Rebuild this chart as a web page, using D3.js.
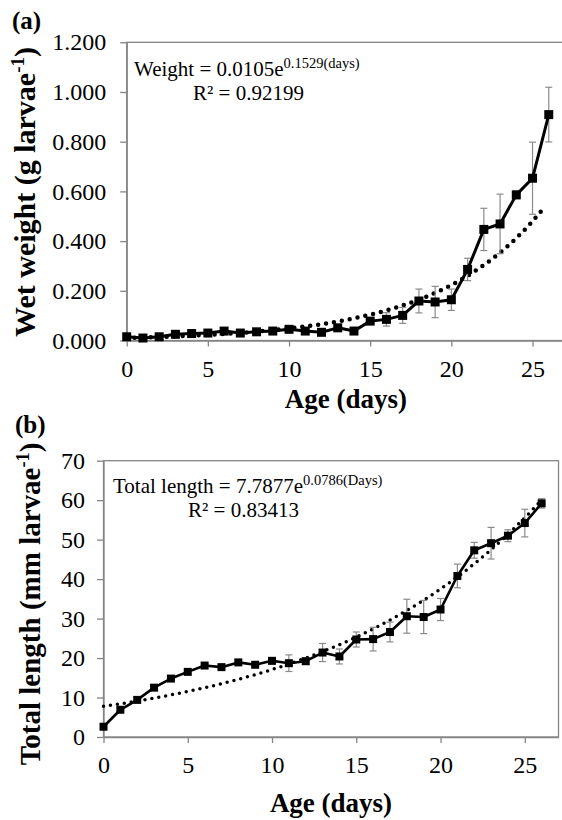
<!DOCTYPE html>
<html>
<head>
<meta charset="utf-8">
<script src="https://cdn.jsdelivr.net/npm/d3@7"></script>
<style>
    body { margin: 0; background: #fff; }
</style>
</head>
<body>
<svg id="chart" width="562" height="820"></svg>
<script>
// Age of the larvae (days)
const days = [0, 1, 2, 3, 4, 5, 6, 7, 8, 9, 10, 11, 12, 13, 14, 15, 16, 17, 18, 19, 20, 21, 22, 23, 24, 25, 26];

// (a) wet weight, g larvae-1, mean and SD
const weight = [0.015, 0.010, 0.015, 0.025, 0.028, 0.030, 0.038, 0.030, 0.035, 0.038, 0.045, 0.038, 0.033, 0.051, 0.038,
                0.078, 0.085, 0.101, 0.159, 0.155, 0.164, 0.286, 0.447, 0.469, 0.586, 0.653, 0.909];
const weightSd = [0.005, 0.005, 0.004, 0.006, 0.005, 0.005, 0.006, 0.004, 0.005, 0.005, 0.006, 0.010, 0.006, 0.008, 0.006,
                  0.010, 0.027, 0.032, 0.048, 0.063, 0.043, 0.045, 0.085, 0.120, 0.015, 0.145, 0.110];

// (b) total length, mm larvae-1, mean and SD
const lengthMm = [2.6, 6.9, 9.4, 12.5, 14.8, 16.5, 18.1, 17.7, 18.9, 18.3, 19.3, 18.7, 19.2, 21.4, 20.4,
                  24.7, 24.8, 26.6, 30.6, 30.4, 32.3, 40.8, 47.3, 49.1, 51.0, 54.2, 59.2];
const lengthSd = [0.6, 0.6, 0.6, 0.6, 0.6, 0.6, 0.6, 0.6, 0.6, 0.6, 0.8, 2.1, 0.8, 2.3, 1.9,
                  1.9, 3.0, 2.5, 4.3, 4.2, 2.8, 3.0, 2.0, 4.0, 1.5, 3.5, 1.2];

// exponential fits shown on the chart
const weightFit = { a: 0.0105, b: 0.1529, end: 25.8 };
const lengthFit = { a: 7.7877, b: 0.0786, end: 26.0 };

const xTicks = [0, 5, 10, 15, 20, 25];
const weightTicks = [0, 0.2, 0.4, 0.6, 0.8, 1.0, 1.2];
const lengthTicks = [0, 10, 20, 30, 40, 50, 60, 70];

const serif = '"Times New Roman", "Liberation Serif", Tinos, "DejaVu Serif", serif';
const svg = d3.select('#chart').attr('font-family', serif);
const axisGray = '#858585';

function drawPanel(opt) {
    const g = svg.append('g');
    const x = d3.scaleLinear().domain([0, 27]).range([opt.left, opt.right]);
    const y = d3.scaleLinear().domain(opt.yDomain).range([opt.bottom, opt.top]);

    // frame
    g.append('rect')
        .attr('x', opt.left).attr('y', opt.top)
        .attr('width', opt.right - opt.left).attr('height', opt.bottom - opt.top)
        .attr('fill', 'none').attr('stroke', axisGray).attr('stroke-width', 1.3);

    const yAxis = g.append('g')
        .attr('transform', `translate(${opt.left},0)`)
        .call(d3.axisLeft(y).tickValues(opt.yTicks).tickFormat(opt.yFormat).tickSize(6.5).tickSizeOuter(0).tickPadding(opt.yPad));
    const xAxis = g.append('g')
        .attr('transform', `translate(0,${opt.bottom})`)
        .call(d3.axisBottom(x).tickValues(xTicks).tickFormat(d3.format('d')).tickSize(6).tickSizeOuter(0).tickPadding(13));

    [yAxis, xAxis].forEach(a => {
        a.attr('font-family', serif).attr('font-size', 24);
        a.select('.domain').attr('stroke', axisGray).attr('stroke-width', 1.3);
        a.selectAll('.tick line').attr('stroke', axisGray).attr('stroke-width', 1.3);
        a.selectAll('.tick text').attr('fill', '#000');
    });

    // fitted curve (dotted)
    const fitX = d3.range(0, opt.fit.end + 0.001, 0.05);
    g.append('path')
        .datum(fitX)
        .attr('fill', 'none')
        .attr('stroke', '#000')
        .attr('stroke-width', opt.dotSize)
        .attr('stroke-linecap', 'round')
        .attr('stroke-dasharray', `0 ${opt.dotGap}`)
        .attr('d', d3.line().x(d => x(d)).y(d => y(opt.fit.a * Math.exp(opt.fit.b * d))));

    // error bars
    const eb = g.append('g').attr('stroke', '#8a8a8a').attr('stroke-width', 1.2);
    days.forEach((d, i) => {
        const lo = y(opt.values[i] - opt.sd[i]);
        const hi = y(opt.values[i] + opt.sd[i]);
        eb.append('line').attr('x1', x(d)).attr('x2', x(d)).attr('y1', lo).attr('y2', hi);
        eb.append('line').attr('x1', x(d) - 3.5).attr('x2', x(d) + 3.5).attr('y1', lo).attr('y2', lo);
        eb.append('line').attr('x1', x(d) - 3.5).attr('x2', x(d) + 3.5).attr('y1', hi).attr('y2', hi);
    });

    // mean line and markers
    g.append('path')
        .datum(days)
        .attr('fill', 'none')
        .attr('stroke', '#000')
        .attr('stroke-width', opt.lineWidth)
        .attr('stroke-linejoin', 'round')
        .attr('d', d3.line().x(d => x(d)).y((d, i) => y(opt.values[i])));

    g.selectAll('.marker')
        .data(days)
        .join('path')
        .attr('class', 'marker')
        .attr('transform', (d, i) => `translate(${x(d)},${y(opt.values[i])})`)
        .attr('d', d3.symbol(d3.symbolSquare, opt.marker * opt.marker))
        .attr('fill', '#000');

    // equation text
    const eq = g.append('text').attr('x', opt.eqX).attr('y', opt.eqY).attr('font-size', 21);
    eq.append('tspan').text(opt.eqText);
    eq.append('tspan').attr('font-size', 14.5).attr('dy', -8).text(opt.eqSup);
    g.append('text').attr('x', opt.r2X).attr('y', opt.eqY + 24).attr('font-size', 21).text(opt.r2Text);

    // axis titles
    g.append('text')
        .attr('x', (opt.left + Math.min(opt.right, 565)) / 2).attr('y', opt.xTitleY)
        .attr('text-anchor', 'middle').attr('font-weight', 'bold').attr('font-size', 27)
        .text('Age (days)');

    const yt = g.append('text')
        .attr('transform', `translate(${opt.yTitleX},${opt.yTitleY}) rotate(-90)`)
        .attr('text-anchor', 'middle').attr('font-weight', 'bold').attr('font-size', opt.yTitleSize);
    yt.append('tspan').text(opt.yTitle);
    yt.append('tspan').attr('font-size', opt.yTitleSize * 0.63).attr('dy', -11).text('-1');
    yt.append('tspan').attr('dy', 11).text(')');

    g.append('text')
        .attr('x', opt.tagX).attr('y', opt.tagY)
        .attr('font-weight', 'bold').attr('font-size', 25)
        .text(opt.tag);
}

drawPanel({
    left: 126.7, right: 565, top: 42.3, bottom: 340.5,
    yDomain: [0, 1.2], yTicks: weightTicks, yFormat: d3.format('.3f'), yPad: 14,
    values: weight, sd: weightSd, fit: weightFit,
    dotSize: 4.5, dotGap: 8, lineWidth: 3, marker: 9,
    eqX: 134, eqY: 76, eqText: 'Weight = 0.0105e', eqSup: '0.1529(days)',
    r2X: 193, r2Text: 'R² = 0.92199',
    xTitleY: 408, yTitleX: 35, yTitleY: 192, yTitleSize: 30, yTitle: 'Wet weight (g larvae',
    tag: '(a)', tagX: 12, tagY: 29
});

drawPanel({
    left: 103.5, right: 558.5, top: 460.7, bottom: 737,
    yDomain: [0, 70], yTicks: lengthTicks, yFormat: d3.format('d'), yPad: 12,
    values: lengthMm, sd: lengthSd, fit: lengthFit,
    dotSize: 3.5, dotGap: 7, lineWidth: 2.6, marker: 8,
    eqX: 113, eqY: 493, eqText: 'Total length = 7.7877e', eqSup: '0.0786(Days)',
    r2X: 188, r2Text: 'R² = 0.83413',
    xTitleY: 812, yTitleX: 40, yTitleY: 604, yTitleSize: 29, yTitle: 'Total length (mm larvae',
    tag: '(b)', tagX: 15, tagY: 433
});
</script>
</body>
</html>
